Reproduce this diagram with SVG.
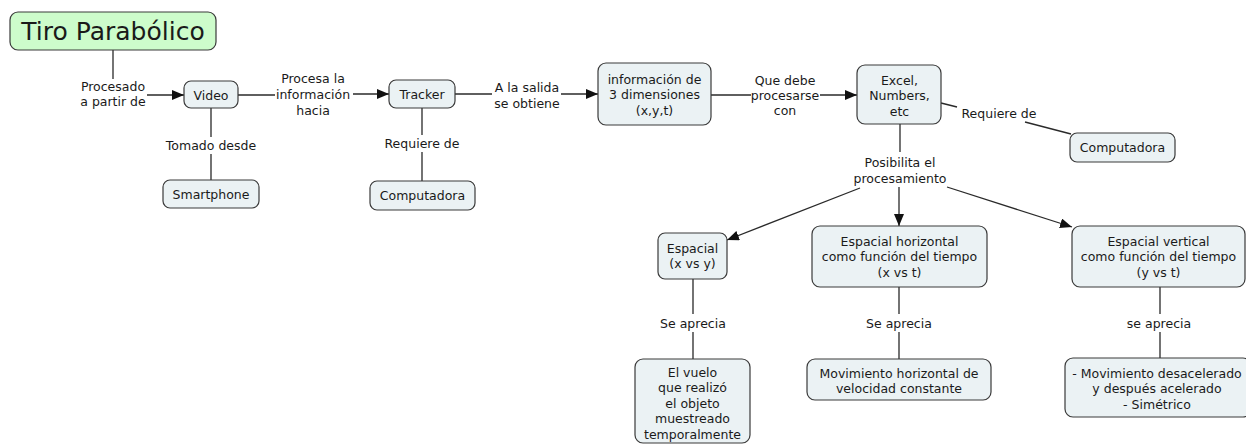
<svg xmlns="http://www.w3.org/2000/svg" width="1246" height="444" viewBox="0 0 1246 444">
<style>
text{font-family:"DejaVu Sans",Verdana,sans-serif;font-size:12.5px;fill:#1a1a1a;text-anchor:middle}
.n rect{fill:#ebf2f4;stroke:#3a3a3a;stroke-width:1.2}
.t rect{fill:#cdfccb;stroke:#3a3a3a;stroke-width:1.2}
.t text{font-size:25px}
#connectors path{fill:none;stroke:#2a2a2a;stroke-width:1.3}
.a{marker-end:url(#arr)}
</style>
<defs>
<marker id="arr" viewBox="0 0 12 10" refX="12" refY="5" markerWidth="12" markerHeight="10" orient="auto" markerUnits="userSpaceOnUse"><path d="M0,0 L12,5 L0,10 z" fill="#111"/></marker>
</defs>
<rect width="1246" height="444" fill="#fff"/>
<g id="connectors">
<path d="M113,50 V79"/>
<path class="a" d="M147,95 H184"/>
<path d="M238,95 H275"/>
<path class="a" d="M353,94 H389"/>
<path d="M455,94 H492"/>
<path class="a" d="M561,94 H598"/>
<path d="M711,95 H751"/>
<path class="a" d="M820,95 H857"/>
<path d="M941,103 L957,107"/>
<path d="M1025,122 L1071,134"/>
<path d="M211,108 V137 M211,154 V180"/>
<path d="M422,108 V135 M422,152 V181"/>
<path d="M900,124 V152"/>
<path class="a" d="M860,188 L727,240"/>
<path class="a" d="M899,187 V226"/>
<path class="a" d="M947,187 L1072,227"/>
<path d="M693,279 V314 M693,332 V359"/>
<path d="M899,287 V314 M899,332 V359"/>
<path d="M1160,287 V314 M1160,332 V358"/>
</g>
<g id="labels">
<text x="113" y="90.5">Procesado<tspan x="113" dy="15">a partir de</tspan></text>
<text x="313" y="82.5">Procesa la<tspan x="313" dy="16">información</tspan><tspan x="313" dy="16">hacia</tspan></text>
<text x="527" y="91.5">A la salida<tspan x="527" dy="16">se obtiene</tspan></text>
<text x="211" y="149.5">Tomado desde</text>
<text x="422" y="147.5">Requiere de</text>
<text x="785" y="84.5">Que debe<tspan x="785" dy="15">procesarse</tspan><tspan x="785" dy="15">con</tspan></text>
<text x="999" y="117.5">Requiere de</text>
<text x="900" y="166.5">Posibilita el<tspan x="900" dy="16">procesamiento</tspan></text>
<text x="693" y="327.5">Se aprecia</text>
<text x="899" y="327.5">Se aprecia</text>
<text x="1159" y="327.5">se aprecia</text>
</g>
<g id="n-title" class="t"><rect x="10" y="12" width="206" height="38" rx="8"/><text x="113" y="40">Tiro Parabólico</text></g>
<g id="n-video" class="n"><rect x="184" y="81" width="54" height="27" rx="7"/><text x="211" y="99.5">Video</text></g>
<g id="n-smartphone" class="n"><rect x="163" y="180" width="96" height="28" rx="7"/><text x="211" y="198.5">Smartphone</text></g>
<g id="n-tracker" class="n"><rect x="389" y="80" width="66" height="28" rx="7"/><text x="422" y="98.5">Tracker</text></g>
<g id="n-computadora1" class="n"><rect x="370" y="181" width="105" height="29" rx="7"/><text x="422.5" y="200">Computadora</text></g>
<g id="n-info" class="n"><rect x="598" y="63" width="113" height="62" rx="8"/><text x="654.5" y="83.5">información de<tspan x="654.5" dy="15.5">3 dimensiones</tspan><tspan x="654.5" dy="15.5">(x,y,t)</tspan></text></g>
<g id="n-excel" class="n"><rect x="857" y="65" width="84" height="59" rx="8"/><text x="899.5" y="84.5">Excel,<tspan x="899.5" dy="15.5">Numbers,</tspan><tspan x="899.5" dy="15.5">etc</tspan></text></g>
<g id="n-computadora2" class="n"><rect x="1070" y="133" width="105" height="29" rx="7"/><text x="1122.5" y="152">Computadora</text></g>
<g id="n-espacial" class="n"><rect x="658" y="233" width="69" height="46" rx="7"/><text x="692.5" y="252.5">Espacial<tspan x="692.5" dy="15.5">(x vs y)</tspan></text></g>
<g id="n-horizontal" class="n"><rect x="812" y="226" width="175" height="61" rx="8"/><text x="899.5" y="245.5">Espacial horizontal<tspan x="899.5" dy="15.5">como función del tiempo</tspan><tspan x="899.5" dy="15.5">(x vs t)</tspan></text></g>
<g id="n-vertical" class="n"><rect x="1072" y="226" width="173" height="61" rx="8"/><text x="1158.5" y="245.5">Espacial vertical<tspan x="1158.5" dy="15.5">como función del tiempo</tspan><tspan x="1158.5" dy="15.5">(y vs t)</tspan></text></g>
<g id="n-vuelo" class="n"><rect x="635" y="359" width="115" height="84" rx="8"/><text x="692.5" y="376.5">El vuelo<tspan x="692.5" dy="15.5">que realizó</tspan><tspan x="692.5" dy="15.5">el objeto</tspan><tspan x="692.5" dy="15.5">muestreado</tspan><tspan x="692.5" dy="15.5">temporalmente</tspan></text></g>
<g id="n-movhoriz" class="n"><rect x="807" y="359" width="184" height="41" rx="8"/><text x="899" y="377.5">Movimiento horizontal de<tspan x="899" dy="15.5">velocidad constante</tspan></text></g>
<g id="n-movdesac" class="n"><rect x="1065" y="358" width="186" height="59" rx="8"/><text x="1157" y="377.5">- Movimiento desacelerado<tspan x="1157" dy="15.5">y después acelerado</tspan><tspan x="1157" dy="15.5">- Simétrico</tspan></text></g>
</svg>
